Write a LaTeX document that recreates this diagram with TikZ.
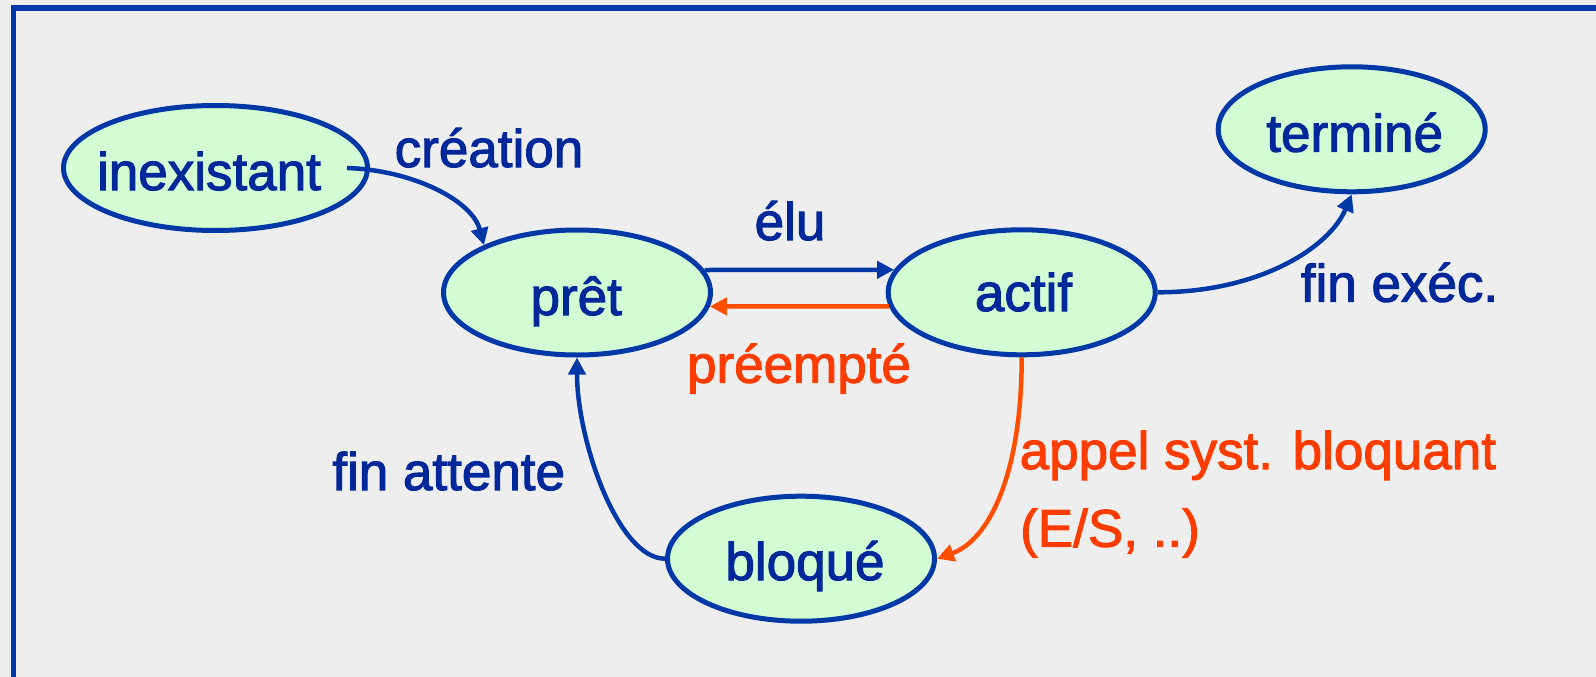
\documentclass[tikz,border=0pt]{standalone}
\usepackage{fontspec}
\setmainfont{Liberation Sans}
\newfontfamily\labelfont{Liberation Sans}[FakeBold=2]
\usetikzlibrary{arrows.meta,shapes.geometric,calc}
\definecolor{bg}{HTML}{EEEEEE}
\definecolor{frameblue}{HTML}{0038A8}
\definecolor{inkblue}{HTML}{00289A}
\definecolor{statefill}{HTML}{D4FCD4}
\definecolor{alertred}{HTML}{FF3C00}
\definecolor{alertline}{HTML}{FF4E00}

\begin{document}
\begin{tikzpicture}[x=1pt,y=-1pt,
  state/.style={ellipse, draw=frameblue, line width=5pt, fill=statefill,
    inner sep=0pt, minimum width=267pt, minimum height=125pt},
  txt/.style={font=\labelfont\fontsize{53}{60}\selectfont, text=inkblue, anchor=base, inner sep=0pt},
  alert/.style={txt, text=alertred},
  arr/.style={draw=frameblue, line width=4.5pt, -{Triangle[length=17pt,width=17pt]}},
  arralert/.style={arr, draw=alertline},
]
% canvas and frame
\useasboundingbox (0,0) rectangle (1596,677);
\fill[bg] (0,0) rectangle (1596,677);
\draw[frameblue, line width=5.5pt] (13.5,700) -- (13.5,8) -- (1620,8);

% states
\node[state, minimum width=304pt] (inex) at (215.5,168) {};
\node[state] (pret) at (577,292.5) {};
\node[state] (actif) at (1021.7,292.3) {};
\node[state] (term) at (1351.7,129.3) {};
\node[state] (bloq) at (801,558.7) {};

% state names
\node[txt] (tInex) at (209,190) {inexistant};
\node[txt] (tPret) at (576.2,315) {prêt};
\node[txt] (tActif) at (1023.5,311) {actif};
\node[txt] (tTerm) at (1354.7,151.7) {terminé};
\node[txt] (tBloq) at (805,580) {bloqué};

% transition labels
\node[txt] (lCrea) at (489,167) {création};
\node[txt] (lElu) at (790,240) {élu};
\node[alert] (lPreempt) at (799,382.7) {préempté};
\node[txt] (lFinExec) at (1399.5,301.7) {fin exéc.};
\node[txt] (lFinAtt) at (448.7,490) {fin attente};
\node[alert] (lAppel) at (1257.9,469) {appel syst. bloquant};
\node[alert] (lES) at (1110,546.7) {(E/S, ..)};

% transitions
\coordinate (creaStart) at ([xshift=-23pt]inex.east);
\draw[arr] (creaStart) .. controls +(65,2) and +(-12,-45) .. (pret.153);
\draw[arr] (pret.10) -- (actif.170);
\draw[arralert] (actif.186) -- (pret.354);
\draw[arr] (actif.east) .. controls +(102,0) and +(-22,53) .. (term.south);
\draw[arr] (bloq.west) .. controls +(-47,0) and +(0,83) .. (pret.south);
\draw[arralert] (actif.south) .. controls +(0,115) and +(53,-19) .. (bloq.east);
\end{tikzpicture}
\end{document}
